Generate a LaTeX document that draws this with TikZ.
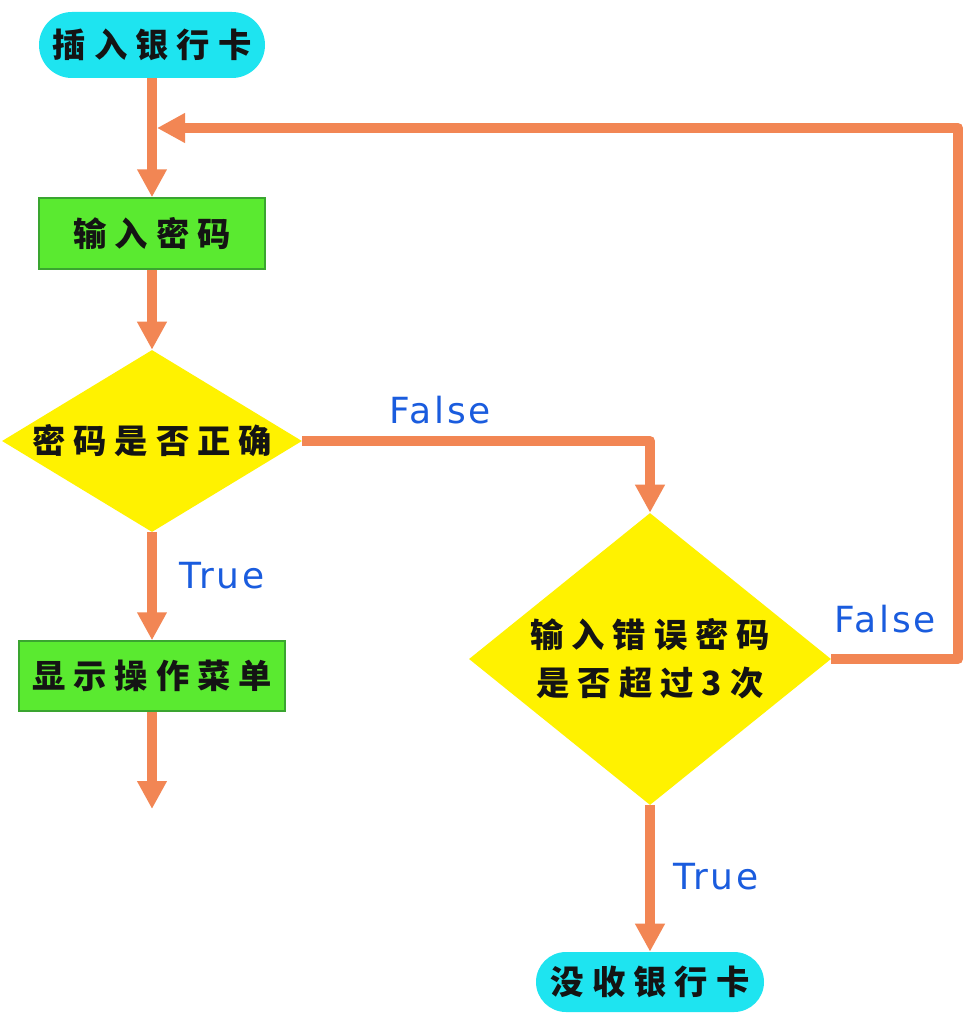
\documentclass[tikz,border=0pt]{standalone}
\usepackage{fontspec}
\usetikzlibrary{shapes.geometric,arrows.meta}
\newfontfamily\cjk[LetterSpace=24]{Noto Sans CJK SC}
\newfontfamily\lbl[LetterSpace=8]{DejaVu Sans}
\definecolor{termcyan}{RGB}{30,228,240}
\definecolor{procgreen}{RGB}{90,234,48}
\definecolor{procedge}{RGB}{58,165,48}
\definecolor{decyellow}{RGB}{255,242,0}
\definecolor{flowline}{RGB}{242,134,84}
\definecolor{labelblue}{RGB}{26,92,222}
\definecolor{inktext}{RGB}{20,20,20}
% one drawing unit = 0.75pt, y grows downwards
\tikzset{
  x=0.75pt, y=-0.75pt,
  cjktext/.style={font=\cjk\bfseries\fontsize{25}{36}\selectfont, text=inktext},
  term/.style={cjktext, rectangle, fill=termcyan, rounded corners=22.5pt,
               minimum width=169.5pt, minimum height=46.5pt, inner sep=0pt},
  proc/.style={cjktext, rectangle, fill=procgreen, draw=procedge, line width=1.1pt,
               minimum width=169.5pt, minimum height=53.25pt, inner sep=0pt},
  dec/.style={cjktext, diamond, fill=decyellow, inner sep=0pt, align=center},
  flow/.style={draw=flowline, line width=7.5pt, line join=round,
               -{Triangle[width=21pt,length=21pt]}},
  tag/.style={font=\lbl\fontsize{27}{30}\selectfont, text=labelblue}
}
\begin{document}
\begin{tikzpicture}
  % canvas
  \fill[white] (0,0) rectangle (973,1024);
  \useasboundingbox (0,0) rectangle (973,1024);

  % nodes
  \node[term, minimum height=49.5pt, rounded corners=24.75pt] (start) at (152,45) {插入银行卡};
  \node[proc] (pwd) at (152,233.5) {输入密码};
  \node[dec, aspect=1.65, minimum width=225pt, minimum height=136.5pt] (chk) at (152,441) {密码是否正确};
  \node[proc, minimum width=199.5pt, minimum height=52.5pt] (menu) at (152,676) {显示操作菜单};
  \node[dec, aspect=1.24, minimum width=271.5pt, minimum height=219pt] (cnt) at (650,659) {输入错误密码\\是否超过3次};
  \node[term, minimum width=171pt, minimum height=45pt] (lock) at (650,982) {没收银行卡};

  \coordinate (merge) at (157,128);
  \coordinate (loopR) at (958,659);
  \coordinate (menuout) at (152,809);

  % connectors
  \draw[flow] (start.south) -- (pwd.north);
  \draw[flow] (pwd.south) -- (chk.north);
  \draw[flow] (chk.south) -- (menu.north);
  \draw[flow] (menu.south) -- (menuout);
  \draw[flow] (chk.east) -| (cnt.north);
  \draw[flow] (cnt.east) -- (loopR) |- (merge);
  \draw[flow] (cnt.south) -- (lock.north);

  % branch labels
  \node[tag] (f1) at (440,410) {False};
  \node[tag] (f2) at (885,619) {False};
  \node[tag] (t1) at (222,576) {True};
  \node[tag] (t2) at (716,877) {True};
\end{tikzpicture}
\end{document}
